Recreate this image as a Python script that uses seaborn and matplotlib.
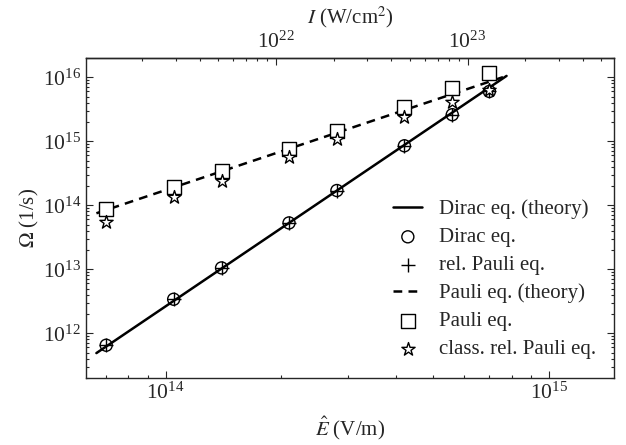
import matplotlib
matplotlib.use("Agg")
import matplotlib.pyplot as plt
import seaborn as sns
import numpy as np
import pandas as pd

# field amplitude (V/m) of the simulated points
E_field = [7.0e13, 1.05e14, 1.4e14, 2.1e14, 2.8e14, 4.2e14, 5.6e14, 7.0e14]
# rates (1/s)
omega_dirac = [6.5e11, 3.4e12, 1.05e13, 5.3e13, 1.7e14, 8.5e14, 2.6e15, 6.0e15]
omega_rel_pauli = [6.5e11, 3.4e12, 1.05e13, 5.3e13, 1.7e14, 8.5e14, 2.6e15, 6.0e15]
omega_pauli = [8.7e13, 1.9e14, 3.4e14, 7.7e14, 1.44e15, 3.4e15, 6.7e15, 1.16e16]
omega_class = [5.4e13, 1.33e14, 2.4e14, 5.6e14, 1.07e15, 2.4e15, 4.1e15, 6.3e15]

# theory curves (straight lines in log-log), end points
E_theory = [6.6e13, 7.76e14]
omega_dirac_theory = [4.9e11, 1.05e16]
omega_pauli_theory = [7.5e13, 1.05e16]

# intensity conversion I = k * E^2  (W/cm^2), top axis ticks
k_int = 2.654e-7
I_major = [1e22, 1e23]
I_minor = [m * 10.0 ** p for p in (21, 22, 23) for m in range(2, 10)]

sns.set_style("ticks")
plt.rcParams["font.family"] = ["Liberation Serif", "DejaVu Serif"]
plt.rcParams["mathtext.fontset"] = "stix"
plt.rcParams["axes.linewidth"] = 1.0
plt.rcParams["xtick.direction"] = "in"
plt.rcParams["ytick.direction"] = "in"

fig = plt.figure(figsize=(6.26, 4.45), dpi=100)
ax = fig.add_axes([86 / 626, 1 - 378 / 445, (614 - 86) / 626, (378 - 58) / 445])

theory = pd.DataFrame({"E": E_theory, "dirac": omega_dirac_theory, "pauli": omega_pauli_theory})
pts = pd.DataFrame({"E": E_field, "dirac": omega_dirac, "rel": omega_rel_pauli,
                    "pauli": omega_pauli, "cls": omega_class})

sns.lineplot(data=theory, x="E", y="dirac", ax=ax, color="black", lw=1.8,
             label="Dirac eq. (theory)")
sns.scatterplot(data=pts, x="E", y="dirac", ax=ax, marker="o", s=75,
                facecolor="none", edgecolor="black", linewidth=1.0,
                label="Dirac eq.", zorder=3)
sns.scatterplot(data=pts, x="E", y="rel", ax=ax, marker="+", s=95,
                color="black", linewidth=1.0, label="rel. Pauli eq.", zorder=3)
sns.lineplot(data=theory, x="E", y="pauli", ax=ax, color="black", lw=1.8,
             label="Pauli eq. (theory)")
ax.lines[-1].set_linestyle((0, (3.5, 2.5)))
sns.scatterplot(data=pts, x="E", y="pauli", ax=ax, marker="s", s=95,
                facecolor="white", edgecolor="black", linewidth=1.0,
                label="Pauli eq.", zorder=3)
sns.scatterplot(data=pts, x="E", y="cls", ax=ax, marker="*", s=100,
                facecolor="white", edgecolor="black", linewidth=1.0,
                label="class. rel. Pauli eq.", zorder=3)

ax.set_xscale("log")
ax.set_yscale("log")
ax.set_xlim(6.2e13, 1.48e15)
ax.set_ylim(2e11, 2e16)

ax.set_xlabel(r"$\hat{E}$ (V/m)", fontsize=15, labelpad=8)
ax.set_ylabel(r"$\Omega$ (1/s)", fontsize=15, labelpad=1)
ax.tick_params(which="both", direction="in", labelsize=15.5, right=True, top=False, width=0.8)
ax.tick_params(which="major", length=5)
ax.tick_params(which="minor", length=2.5)
ax.yaxis.set_minor_locator(matplotlib.ticker.LogLocator(subs=np.arange(2, 10), numticks=20))

sec = ax.secondary_xaxis("top", functions=(lambda e: k_int * np.asarray(e) ** 2,
                                           lambda i: np.sqrt(np.asarray(i) / k_int)))
sec.xaxis.set_major_locator(matplotlib.ticker.FixedLocator(I_major))
sec.xaxis.set_minor_locator(matplotlib.ticker.FixedLocator(
    [v for v in I_minor if k_int * 6.2e13 ** 2 < v < k_int * 1.48e15 ** 2]))
sec.xaxis.set_major_formatter(matplotlib.ticker.LogFormatterSciNotation())
sec.xaxis.set_minor_formatter(matplotlib.ticker.NullFormatter())
sec.set_xlabel(r"$I$ (W/cm$^2$)", fontsize=15, labelpad=6)
sec.tick_params(which="both", direction="in", labelsize=15.5, pad=4, width=0.8)
sec.tick_params(which="major", length=5)
sec.tick_params(which="minor", length=2.5)

handles, labels = ax.get_legend_handles_labels()
ax.legend(handles, labels, loc="lower right", bbox_to_anchor=(0.99, 0.02),
          frameon=False, fontsize=15, handlelength=1.4, handletextpad=0.8,
          labelspacing=0.4, borderaxespad=0.2)

fig.savefig("out.png", dpi=100)
